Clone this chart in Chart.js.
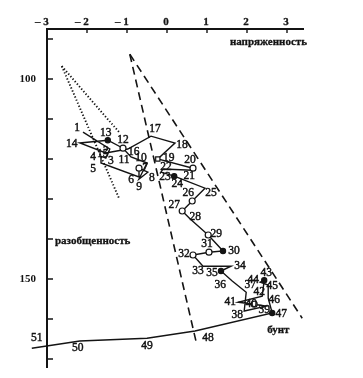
<!DOCTYPE html>
<html>
<head>
<meta charset="utf-8">
<script src="https://cdn.jsdelivr.net/npm/chart.js@4/dist/chart.umd.min.js"></script>
<style>
  html, body { margin: 0; padding: 0; background: #fff; }
  #wrap { width: 363px; height: 378px; }
</style>
</head>
<body>
<div id="wrap"><canvas id="c" width="363" height="378"></canvas></div>
<script>
// Step numbers along the trajectory
const steps = [
   1,  2,  3,  4,  5,  6,  7,  8,  9, 10,
  11, 12, 13, 14, 15, 16, 17, 18, 19, 20,
  21, 22, 23, 24, 25, 26, 27, 28, 29, 30,
  31, 32, 33, 34, 35, 36, 37, 38, 39, 40,
  41, 42, 43, 44, 45, 46, 47, 48, 49, 50, 51
];

// напряженность (horizontal)
const tension = [
  -2.10, -1.43, -1.53, -1.65, -1.65, -0.70, -0.70, -0.48, -0.70, -0.50,
  -0.90, -1.10, -1.48, -2.18, -1.53, -0.98, -0.40,  0.20, -0.23,  0.65,
   0.63, -0.10, -0.15,  0.18,  0.95,  0.63,  0.38,  0.58,  1.03,  1.40,
   1.05,  0.65,  0.90,  1.60,  1.35,  1.63,  1.98,  1.93,  2.48,  2.18,
   1.78,  2.38,  2.43,  2.33,  2.53,  2.53,  2.63,  0.70, -0.50, -2.18, -3.38
];

// разобщенность (vertical, growing downward)
const disunity = [
  113.3, 117.5, 119.8, 119.3, 121.0, 124.5, 122.3, 123.3, 125.0, 121.0,
  119.5, 117.3, 115.3, 116.0, 118.5, 117.5, 114.3, 116.0, 120.0, 122.3,
  122.8, 122.5, 123.3, 124.3, 127.3, 130.5, 133.0, 135.0, 139.0, 143.0,
  143.3, 144.0, 146.8, 146.8, 148.0, 150.5, 153.3, 158.0, 156.8, 156.3,
  155.8, 154.3, 150.3, 150.8, 151.5, 154.8, 158.5, 163.0, 164.8, 165.5, 167.3
];

// Boundary lines: dotted pair and dashed pair from shared apexes
const dottedSteepX = [-2.63, -1.20];
const dottedSteepY = [96.8, 129.8];
const dottedFlatX  = [-2.63, -1.18];
const dottedFlatY  = [96.8, 113.5];
const dashedLeftX  = [-0.93, 0.73];
const dashedLeftY  = [93.8, 165.8];
const dashedRightX = [-0.93, 3.38];
const dashedRightY = [93.8, 159.8];

// Axis ticks
const xTickValues = [-3, -2, -1, 0, 1, 2, 3];
const xTickLabels = ['– 3', '– 2', '– 1', '0', '1', '2', '3'];
const yTickValues = [90, 100, 110, 120, 130, 140, 150, 160, 170];
const yTickLabels = { 100: '100', 150: '150' };

// Marker kind per step: o = open circle, f = filled dot, s = open square
const markerKind = {
  7: 'o', 12: 'o', 13: 'f', 19: 's', 20: 'o', 24: 'f', 26: 'o', 27: 'o',
  29: 'o', 30: 'f', 31: 'o', 32: 'o', 35: 'f', 40: 'o', 43: 'f', 47: 'f'
};

// Where each step number sits relative to its point (px)
const labelShift = [
  [-6,-4], [-4,2], [5,3], [-8,1], [-8,6], [-8,3], [6,0], [4,6], [0,8], [-6,-5],
  [-7,3], [0,-8], [-2,-7], [-8,1], [-3,1], [6,3], [4,-7], [7,2], [11,-1], [-3,-8],
  [-3,6], [3,-2], [4,5], [3,8], [6,5], [-4,-8], [-8,-6], [5,-2], [8,-1], [11,0],
  [-2,-8], [-9,-1], [-5,5], [9,0], [-9,2], [-12,4], [4,-7], [-7,4], [-2,4], [-3,0],
  [-8,0], [-3,-4], [2,-7], [-7,-2], [4,1], [6,2], [9,1], [13,7], [0,8], [-2,7], [5,-10]
];

const INK = '#141414';
const serif = '"Liberation Serif", "DejaVu Serif", serif';

const pathData = steps.map((s, i) => ({ x: tension[i], y: disunity[i] }));
const pairs = (xs, ys) => xs.map((v, i) => ({ x: v, y: ys[i] }));

// text with a faint outline so it reads as heavy print
function inked(ctx, text, x, y, w) {
  ctx.lineWidth = w;
  ctx.strokeText(text, x, y);
  ctx.fillText(text, x, y);
}

const decor = {
  id: 'decor',
  afterDraw(chart) {
    const { ctx, chartArea: a, scales: { x, y } } = chart;
    ctx.save();
    ctx.strokeStyle = INK;
    ctx.fillStyle = INK;
    ctx.lineWidth = 1.4;
    // inward tick marks
    ctx.beginPath();
    xTickValues.forEach(v => {
      if (v === xTickValues[0]) return;
      const px = x.getPixelForValue(v);
      ctx.moveTo(px, a.top);
      ctx.lineTo(px, a.top + 4);
    });
    yTickValues.forEach(v => {
      const py = y.getPixelForValue(v);
      ctx.moveTo(a.left, py);
      ctx.lineTo(a.left + 6, py);
    });
    ctx.stroke();

    // top axis numbers, digit centred on its tick
    ctx.font = 'bold 11px ' + serif;
    ctx.textBaseline = 'alphabetic';
    ctx.textAlign = 'right';
    ctx.lineJoin = 'round';
    xTickValues.forEach((v, i) => {
      const px = x.getPixelForValue(v) - 1;
      const dw = ctx.measureText(String(Math.abs(v))).width;
      inked(ctx, xTickLabels[i], px + dw / 2, a.top - 4, 0.3);
    });

    // axis names
    ctx.textAlign = 'right';
    inked(ctx, 'напряженность', a.right + 4, a.top + 16, 0.3);
    ctx.textAlign = 'left';
    inked(ctx, 'разобщенность', a.left + 8, y.getPixelForValue(141.2), 0.3);

    // step numbers
    const meta = chart.getDatasetMeta(0);
    ctx.font = '11.5px ' + serif;
    ctx.textAlign = 'center';
    ctx.textBaseline = 'middle';
    meta.data.forEach((pt, i) => {
      const [dx, dy] = labelShift[i];
      inked(ctx, String(steps[i]), pt.x + dx, pt.y + dy, 0.45);
    });

    // end state
    const last = meta.data[46];
    ctx.font = 'bold 11px ' + serif;
    ctx.textAlign = 'left';
    ctx.textBaseline = 'alphabetic';
    inked(ctx, 'бунт', last.x - 5, last.y + 20, 0.3);
    ctx.restore();
  }
};

const refLine = (data, dash, width) => ({
  data, showLine: true, borderColor: INK, borderWidth: width, borderDash: dash,
  pointRadius: 0, pointHoverRadius: 0, tension: 0, clip: false, fill: false
});

new Chart(document.getElementById('c'), {
  type: 'scatter',
  data: {
    datasets: [
      {
        data: pathData,
        showLine: true,
        borderColor: INK,
        borderWidth: 1.4,
        tension: 0,
        clip: false,
        pointStyle: ctx => markerKind[steps[ctx.dataIndex]] === 's' ? 'rect' : 'circle',
        pointRadius: ctx => {
          const k = markerKind[steps[ctx.dataIndex]];
          return k === 'o' || k === 's' ? 3 : (k === 'f' ? 2.6 : 0);
        },
        pointBackgroundColor: ctx => markerKind[steps[ctx.dataIndex]] === 'f' ? INK : '#fff',
        pointBorderColor: INK,
        pointBorderWidth: 1.2,
        pointHoverRadius: 0
      },
      refLine(pairs(dottedSteepX, dottedSteepY), [1.3, 2], 1.9),
      refLine(pairs(dottedFlatX, dottedFlatY), [1.3, 2], 1.9),
      refLine(pairs(dashedLeftX, dashedLeftY), [8, 5], 1.6),
      refLine(pairs(dashedRightX, dashedRightY), [8, 5], 1.6)
    ]
  },
  options: {
    responsive: false,
    animation: false,
    devicePixelRatio: 1,
    layout: { padding: { left: 0, top: 0, right: 60, bottom: 11 } },
    plugins: { legend: { display: false }, tooltip: { enabled: false } },
    scales: {
      x: {
        type: 'linear',
        position: 'top',
        min: -3,
        max: 3.4,
        grid: { display: false },
        border: { display: true, color: INK, width: 2 },
        ticks: { display: false },
        afterFit: s => { s.height = 29; }
      },
      y: {
        type: 'linear',
        reverse: true,
        min: 87.5,
        max: 172,
        grid: { display: false },
        border: { display: true, color: INK, width: 2 },
        afterBuildTicks: s => { s.ticks = yTickValues.map(v => ({ value: v })); },
        ticks: {
          autoSkip: false,
          padding: 3,
          color: INK,
          font: { family: serif, size: 11, weight: 'bold' },
          callback: v => yTickLabels[v] || ''
        },
        afterFit: s => { s.width = 47; }
      }
    }
  },
  plugins: [decor]
});
</script>
</body>
</html>
